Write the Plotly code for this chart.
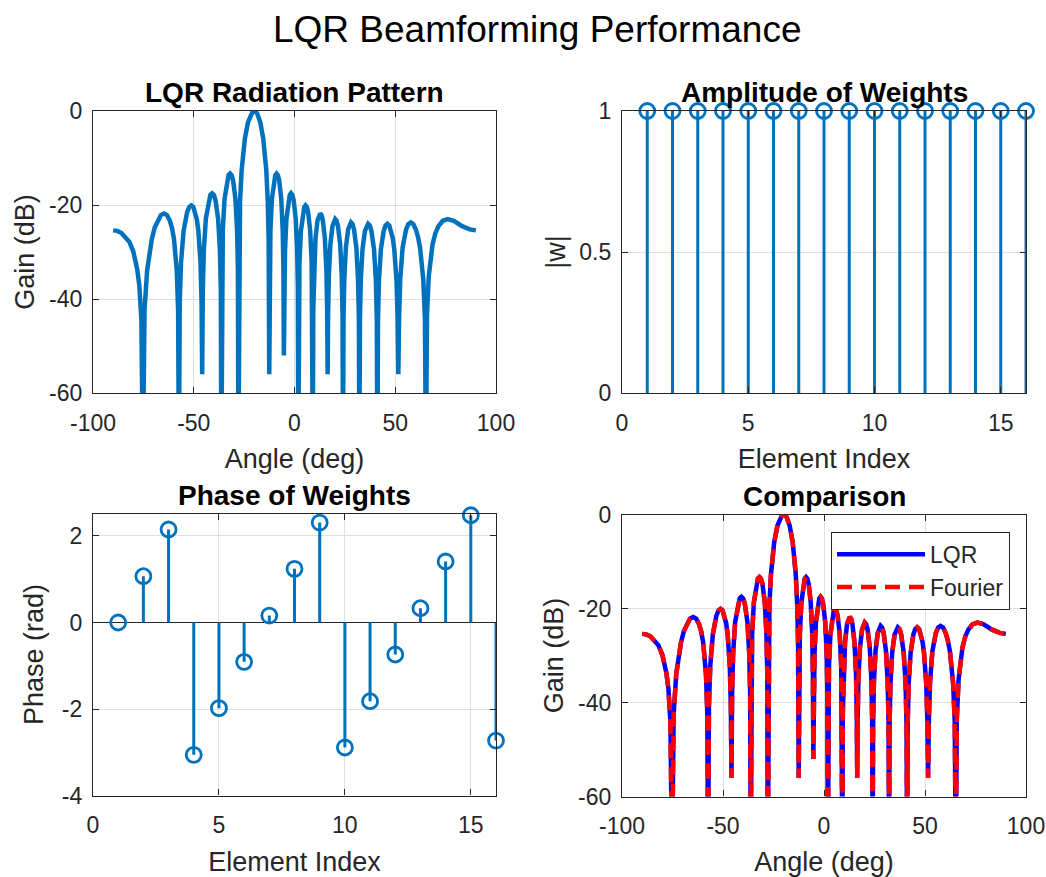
import plotly.graph_objects as go

# ---------------- data ----------------
# Radiation pattern (angle in degrees, gain in dB), listed lobe by lobe.
angle_deg = [
    # left edge lobe
    -90.0, -88.0, -86.0, -84.0, -82.0, -80.0, -79.0, -78.0, -77.0, -76.0, -75.24,
    -74.42, -73.13, -70.8, -69.35, -67.97, -66.32, -64.76, -63.29, -61.89, -60.84, -59.82, -58.43, -57.76, -57.36,
    -56.96, -56.31, -55.03, -54.17, -53.33, -52.26, -51.22, -50.2, -49.2, -48.45, -47.7, -46.64, -46.12, -45.81,
    -45.5, -44.99, -43.99, -42.61, -41.74, -40.88, -40.03, -39.2, -37.91, -37.01, -36.56, -36.30,
    -36.03, -35.59, -34.72, -33.51, -32.73, -31.97, -31.22, -30.47, -29.31, -28.49, -28.08, -27.84,
    # main lobe
    -27.52, -27.03, -26.23, -24.65, -23.08, -21.53, -20.76, -20.0, -19.24, -18.48, -16.98, -15.49, -14.0, -13.27, -12.83, -12.53,
    -12.31, -11.95, -11.21, -10.19, -9.54, -8.89, -8.24, -7.58, -6.57, -5.85, -5.49, -5.28,
    -5.06, -4.70, -3.99, -2.98, -2.34, -1.69, -1.05, -0.40, 0.60, 1.32, 1.68, 1.89,
    2.11, 2.46, 3.18, 4.19, 4.83, 5.48, 6.13, 6.78, 7.79, 8.51, 8.87, 9.09,
    9.31, 9.67, 10.40, 11.42, 12.08, 12.74, 13.40, 14.06, 15.09, 15.84, 16.21, 16.44,
    16.66, 17.04, 17.79, 18.84, 19.53, 20.21, 20.90, 21.59, 22.67, 23.45, 23.84, 24.08,
    24.32, 24.71, 25.50, 26.62, 27.34, 28.06, 28.80, 29.54, 30.70, 31.53, 31.96, 32.21,
    32.47, 32.89, 33.75, 34.96, 35.75, 36.55, 37.36, 38.17, 39.46, 40.39, 40.86, 41.14,
    41.43, 41.91, 42.88, 43.57, 44.27, 45.18, 46.10, 47.03, 47.99, 48.74, 49.51, 50.63, 51.20, 51.54,
    51.89, 52.47, 53.65, 54.51, 55.39, 56.53, 57.73, 58.96, 60.23, 61.26, 62.33, 63.90, 64.73, 65.24,
    # right edge lobe
    65.75, 66.63, 68.51, 69.92, 71.45, 73.60, 76.04, 79.04, 83.2, 87.0, 90.0,
]
lqr_gain_db = [
    -25.4, -25.5, -25.9, -26.7, -27.8, -29.9, -31.5, -33.8, -37.2, -44.3, -75.0,
    -42.3, -33.9, -27.2, -24.8, -23.3, -22.15, -21.8, -22.15, -23.3, -24.8, -27.2, -33.9, -42.3, -75.0,
    -40.6, -32.2, -25.5, -23.1, -21.6, -20.45, -20.1, -20.45, -21.6, -23.1, -25.5, -32.2, -40.6, -56.0,
    -38.0, -29.6, -22.9, -19.0, -17.85, -17.5, -17.85, -19.0, -22.9, -29.6, -38.0, -75.0,
    -33.8, -25.4, -18.7, -14.8, -13.65, -13.3, -13.65, -14.8, -18.7, -25.4, -33.8, -75.0,
    -27.6, -19.2, -12.6, -5.9, -2.4, -0.6, -0.14, 0.0, -0.14, -0.6, -2.4, -5.9, -12.6, -19.2, -27.6, -56.0,
    -33.8, -25.4, -18.7, -14.8, -13.65, -13.3, -13.65, -14.8, -18.7, -25.4, -33.8, -52.0,
    -38.0, -29.6, -22.9, -19.0, -17.85, -17.5, -17.85, -19.0, -22.9, -29.6, -38.0, -75.0,
    -40.6, -32.2, -25.5, -21.6, -20.45, -20.1, -20.45, -21.6, -25.5, -32.2, -40.6, -75.0,
    -42.3, -33.9, -27.2, -23.3, -22.15, -21.8, -22.15, -23.3, -27.2, -33.9, -42.3, -56.0,
    -43.5, -35.1, -28.4, -24.5, -23.35, -23.0, -23.35, -24.5, -28.4, -35.1, -43.5, -75.0,
    -44.2, -35.8, -29.1, -25.2, -24.05, -23.7, -24.05, -25.2, -29.1, -35.8, -44.2, -75.0,
    -44.5, -36.1, -29.4, -25.5, -24.35, -24.0, -24.35, -25.5, -29.4, -36.1, -44.5, -75.0,
    -44.5, -36.1, -29.4, -27.0, -25.5, -24.35, -24.0, -24.35, -25.5, -27.0, -29.4, -36.1, -44.5, -56.0,
    -44.2, -35.8, -29.1, -26.7, -25.2, -24.05, -23.7, -24.05, -25.2, -26.7, -29.1, -35.8, -44.2, -75.0,
    -43.5, -35.1, -28.4, -26.0, -24.5, -23.35, -23.0, -23.35, -24.5, -25.2, -25.4,
]
# The Fourier pattern coincides with the LQR pattern in the reference.
fourier_gain_db = list(lqr_gain_db)

element_index = [1, 2, 3, 4, 5, 6, 7, 8, 9, 10, 11, 12, 13, 14, 15, 16]
weight_amplitude = [1, 1, 1, 1, 1, 1, 1, 1, 1, 1, 1, 1, 1, 1, 1, 1]
weight_phase = [0.00, 1.07, 2.15, -3.06, -1.98, -0.91, 0.16, 1.24,
                2.31, -2.89, -1.82, -0.74, 0.33, 1.41, 2.48, -2.73]

angle_ticks = [-100, -50, 0, 50, 100]
angle_ticklabels = ["-100", "-50", "0", "50", "100"]
gain_ticks = [-60, -40, -20, 0]
gain_ticklabels = ["-60", "-40", "-20", "0"]
index_ticks = [0, 5, 10, 15]
index_ticklabels = ["0", "5", "10", "15"]
amp_ticks = [0, 0.5, 1]
amp_ticklabels = ["0", "0.5", "1"]
phase_ticks = [-4, -2, 0, 2]
phase_ticklabels = ["-4", "-2", "0", "2"]

# ---------------- styling ----------------
FONT = "Liberation Sans, Arial, Helvetica, sans-serif"
AXC = "#262626"
GRID = "#dfdfdf"
MBLUE = "#0072BD"
W, H = 1046, 877

# plot-area pixel boxes (left, right, top, bottom)
boxes = {
    1: (93, 496, 111, 393),
    2: (622, 1026, 111, 393),
    3: (93, 496, 513.5, 795.5),
    4: (622, 1026, 514.5, 796.5),
}


def xdom(i):
    l, r, t, b = boxes[i]
    return [l / W, r / W]


def ydom(i):
    l, r, t, b = boxes[i]
    return [1 - b / H, 1 - t / H]


def stem_xy(xs, ys):
    sx, sy = [], []
    for x, y in zip(xs, ys):
        sx += [x, x, None]
        sy += [0, y, None]
    return sx, sy


def make_axis(domain, rng, tickvals, ticktext, anchor, title, standoff, labelgap, zeroline=False):
    return dict(
        domain=domain, range=rng, anchor=anchor, automargin=False,
        tickmode="array", tickvals=tickvals, ticktext=ticktext,
        showline=True, mirror="ticks", linecolor=AXC, linewidth=1.3,
        ticks="inside", ticklen=6, tickwidth=1.2, tickcolor=AXC,
        ticklabelstandoff=labelgap,
        showgrid=True, gridcolor=GRID, gridwidth=1,
        zeroline=zeroline, zerolinecolor=AXC, zerolinewidth=1.3,
        tickfont=dict(family=FONT, size=23, color=AXC),
        title=dict(text=title, font=dict(family=FONT, size=27, color=AXC), standoff=standoff),
        fixedrange=True,
    )


fig = go.Figure()

# 1) radiation pattern
fig.add_trace(go.Scatter(x=angle_deg, y=lqr_gain_db, mode="lines",
                         line=dict(color=MBLUE, width=4.5),
                         xaxis="x", yaxis="y", showlegend=False))

# 2) amplitude stems
sx, sy = stem_xy(element_index, weight_amplitude)
fig.add_trace(go.Scatter(x=sx, y=sy, mode="lines", line=dict(color=MBLUE, width=3),
                         xaxis="x2", yaxis="y2", showlegend=False))
fig.add_trace(go.Scatter(x=element_index, y=weight_amplitude, mode="markers",
                         marker=dict(symbol="circle-open", size=15, color=MBLUE,
                                     line=dict(width=2.8, color=MBLUE)),
                         cliponaxis=False, xaxis="x2", yaxis="y2", showlegend=False))

# 3) phase stems
px_, py_ = stem_xy(element_index, weight_phase)
fig.add_trace(go.Scatter(x=px_, y=py_, mode="lines", line=dict(color=MBLUE, width=3),
                         xaxis="x3", yaxis="y3", showlegend=False))
fig.add_trace(go.Scatter(x=element_index, y=weight_phase, mode="markers",
                         marker=dict(symbol="circle-open", size=15, color=MBLUE,
                                     line=dict(width=2.8, color=MBLUE)),
                         cliponaxis=False, xaxis="x3", yaxis="y3", showlegend=False))

# 4) comparison
fig.add_trace(go.Scatter(x=angle_deg, y=lqr_gain_db, mode="lines", name="LQR",
                         line=dict(color="#0000FF", width=4.5),
                         xaxis="x4", yaxis="y4"))
fig.add_trace(go.Scatter(x=angle_deg, y=fourier_gain_db, mode="lines", name="Fourier",
                         line=dict(color="#FF0000", width=4.5, dash="15px,9px"),
                         xaxis="x4", yaxis="y4"))

XS, YS = 14, 6      # axis title standoffs
XG, YG = 9, 5       # tick label gaps
layout = dict(
    width=W, height=H,
    margin=dict(l=0, r=0, t=0, b=0, autoexpand=False),
    paper_bgcolor="white", plot_bgcolor="white",
    font=dict(family=FONT, color=AXC),
    xaxis=make_axis(xdom(1), [-100, 100], angle_ticks, angle_ticklabels, "y", "Angle (deg)", XS, XG),
    yaxis=make_axis(ydom(1), [-60, 0], gain_ticks, gain_ticklabels, "x", "Gain (dB)", YS, YG),
    xaxis2=make_axis(xdom(2), [0, 16], index_ticks, index_ticklabels, "y2", "Element Index", XS, XG),
    yaxis2=make_axis(ydom(2), [0, 1], amp_ticks, amp_ticklabels, "x2", "|w|", 5, YG),
    xaxis3=make_axis(xdom(3), [0, 16], index_ticks, index_ticklabels, "y3", "Element Index", XS, XG),
    yaxis3=make_axis(ydom(3), [-4, 2.52], phase_ticks, phase_ticklabels, "x3", "Phase (rad)", YS + 4, YG, zeroline=True),
    xaxis4=make_axis(xdom(4), [-100, 100], angle_ticks, angle_ticklabels, "y4", "Angle (deg)", XS, XG),
    yaxis4=make_axis(ydom(4), [-60, 0], gain_ticks, gain_ticklabels, "x4", "Gain (dB)", YS, YG),
    legend=dict(x=1010 / W, xanchor="right", y=1 - 531.7 / H, yanchor="top",
                bgcolor="white", bordercolor=AXC, borderwidth=1,
                font=dict(family=FONT, size=23, color=AXC), itemwidth=88,
                tracegroupgap=0),
    showlegend=True,
)
fig.update_layout(**layout)

subtitles = {1: "LQR Radiation Pattern", 2: "Amplitude of Weights",
             3: "Phase of Weights", 4: "Comparison"}
for i, txt in subtitles.items():
    l, r, t, b = boxes[i]
    fig.add_annotation(x=(l + r) / 2 / W, y=1 - t / H, xref="paper", yref="paper",
                       xanchor="center", yanchor="bottom", yshift=1, showarrow=False,
                       text="<b>" + txt + "</b>",
                       font=dict(family=FONT, size=28, color="black"))

fig.add_annotation(x=537 / W, y=1 - 30 / H, xref="paper", yref="paper",
                   xanchor="center", yanchor="middle", showarrow=False,
                   text="LQR Beamforming Performance",
                   font=dict(family=FONT, size=37, color="black"))

fig.write_html("out.html")
